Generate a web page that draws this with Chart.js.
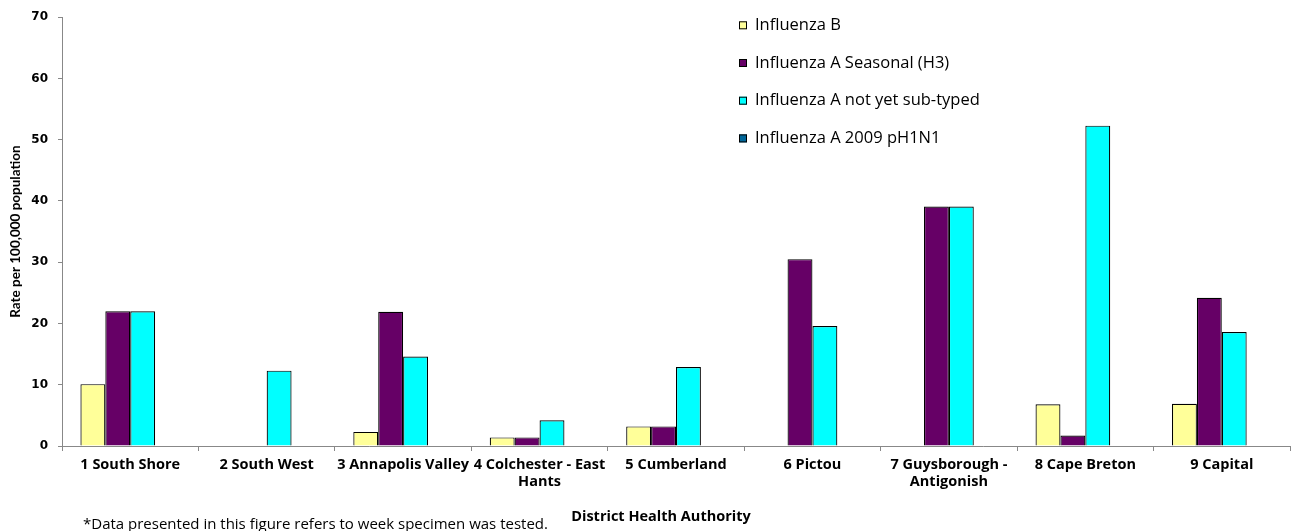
<!DOCTYPE html>
<html>
<head>
<meta charset="utf-8">
<script src="https://cdn.jsdelivr.net/npm/chart.js@4.4.1/dist/chart.umd.min.js"></script>
<style>
  html, body { margin: 0; padding: 0; background: #fff; }
  #wrap { width: 1292px; height: 531px; position: relative; }
</style>
</head>
<body>
<div id="wrap"><canvas id="fluChart"></canvas></div>
<script>
// районы (District Health Authority)
const districts = [
  '1 South Shore',
  '2 South West',
  '3 Annapolis Valley',
  ['4 Colchester - East', 'Hants'],
  '5 Cumberland',
  '6 Pictou',
  ['7 Guysborough -', 'Antigonish'],
  '8 Cape Breton',
  '9 Capital'
];

// значения по сериям (rate per 100,000)
const fluB        = [10.1, null, 2.3, 1.4, 3.2, null, null, 6.8, 6.9];
const fluH3       = [22.0, null, 21.9, 1.4, 3.2, 30.5, 39.1, 1.7, 24.2];
const fluNotTyped = [22.0, 12.3, 14.6, 4.2, 12.9, 19.6, 39.1, 52.3, 18.6];
const fluPH1N1    = [null, null, null, null, null, null, null, null, null];

const seriesNames = ['Influenza B', 'Influenza A Seasonal (H3)', 'Influenza A not yet sub-typed', 'Influenza A 2009 pH1N1'];
const seriesColors = ['#FFFF99', '#660066', '#00FFFF', '#006699'];

const yTicks = [0, 10, 20, 30, 40, 50, 60, 70];

// легенда внутри области графика, столбиком
const insideLegend = {
  id: 'insideLegend',
  afterDraw(chart) {
    const ctx = chart.ctx;
    const x0 = 739;
    ctx.save();
    ctx.font = '16.5px "Open Sans"';
    ctx.textBaseline = 'middle';
    chart.data.datasets.forEach((ds, i) => {
      const y = 25.3 + i * 37.7;
      ctx.fillStyle = ds.backgroundColor;
      ctx.fillRect(x0, y - 4, 8, 8);
      ctx.strokeStyle = '#000';
      ctx.lineWidth = 1;
      ctx.strokeRect(x0 + 0.5, y - 3.5, 7, 7);
      ctx.fillStyle = '#000';
      ctx.fillText(ds.label, x0 + 16, y);
    });
    ctx.restore();
  }
};

// подпись оси X и сноска внизу
const bottomTexts = {
  id: 'bottomTexts',
  afterDraw(chart) {
    const ctx = chart.ctx;
    ctx.save();
    ctx.fillStyle = '#000';
    ctx.textBaseline = 'middle';
    ctx.font = 'bold 14.5px "Open Sans"';
    ctx.textAlign = 'center';
    ctx.fillText('District Health Authority', 661, 517);
    ctx.font = '15px "Open Sans"';
    ctx.textAlign = 'left';
    ctx.fillText('*Data presented in this figure refers to week specimen was tested.', 83, 525);
    ctx.restore();
  }
};

const ctx = document.getElementById('fluChart').getContext('2d');
new Chart(ctx, {
  type: 'bar',
  data: {
    labels: districts,
    datasets: [fluB, fluH3, fluNotTyped, fluPH1N1].map((vals, i) => ({
      label: seriesNames[i],
      data: vals,
      backgroundColor: seriesColors[i],
      borderColor: '#000',
      borderWidth: 1.2,
      barPercentage: 1,
      categoryPercentage: 0.73
    }))
  },
  options: {
    responsive: true,
    maintainAspectRatio: false,
    animation: false,
    layout: { padding: { top: 15, right: 2, left: 0, bottom: 0 } },
    plugins: {
      legend: { display: false },
      tooltip: { enabled: false }
    },
    scales: {
      y: {
        min: 0,
        max: 70,
        afterBuildTicks: (scale) => { scale.ticks = yTicks.map(v => ({ value: v })); },
        afterFit: (scale) => { scale.width = 62; },
        border: { color: '#888', width: 1 },
        grid: { display: true, drawOnChartArea: false, tickLength: 4, color: '#888' },
        ticks: {
          color: '#000',
          padding: 10,
          font: { family: 'DejaVu Sans', weight: 'bold', size: 12 }
        },
        title: {
          display: true,
          text: 'Rate per 100,000 population',
          color: '#000',
          padding: { top: 8, bottom: 0 },
          font: { family: '"Liberation Sans Narrow", Lato', weight: 'bold', size: 13.5 }
        }
      },
      x: {
        afterFit: (scale) => { scale.height = 85; },
        border: { color: '#888', width: 1 },
        grid: { display: true, drawOnChartArea: false, tickLength: 5, color: '#888', offset: true },
        ticks: {
          color: '#000',
          padding: 5,
          maxRotation: 0,
          autoSkip: false,
          font: { family: 'Open Sans', weight: 'bold', size: 14.5, lineHeight: 1.19 }
        },
        title: { display: false }
      }
    }
  },
  plugins: [insideLegend, bottomTexts]
});
</script>
</body>
</html>
